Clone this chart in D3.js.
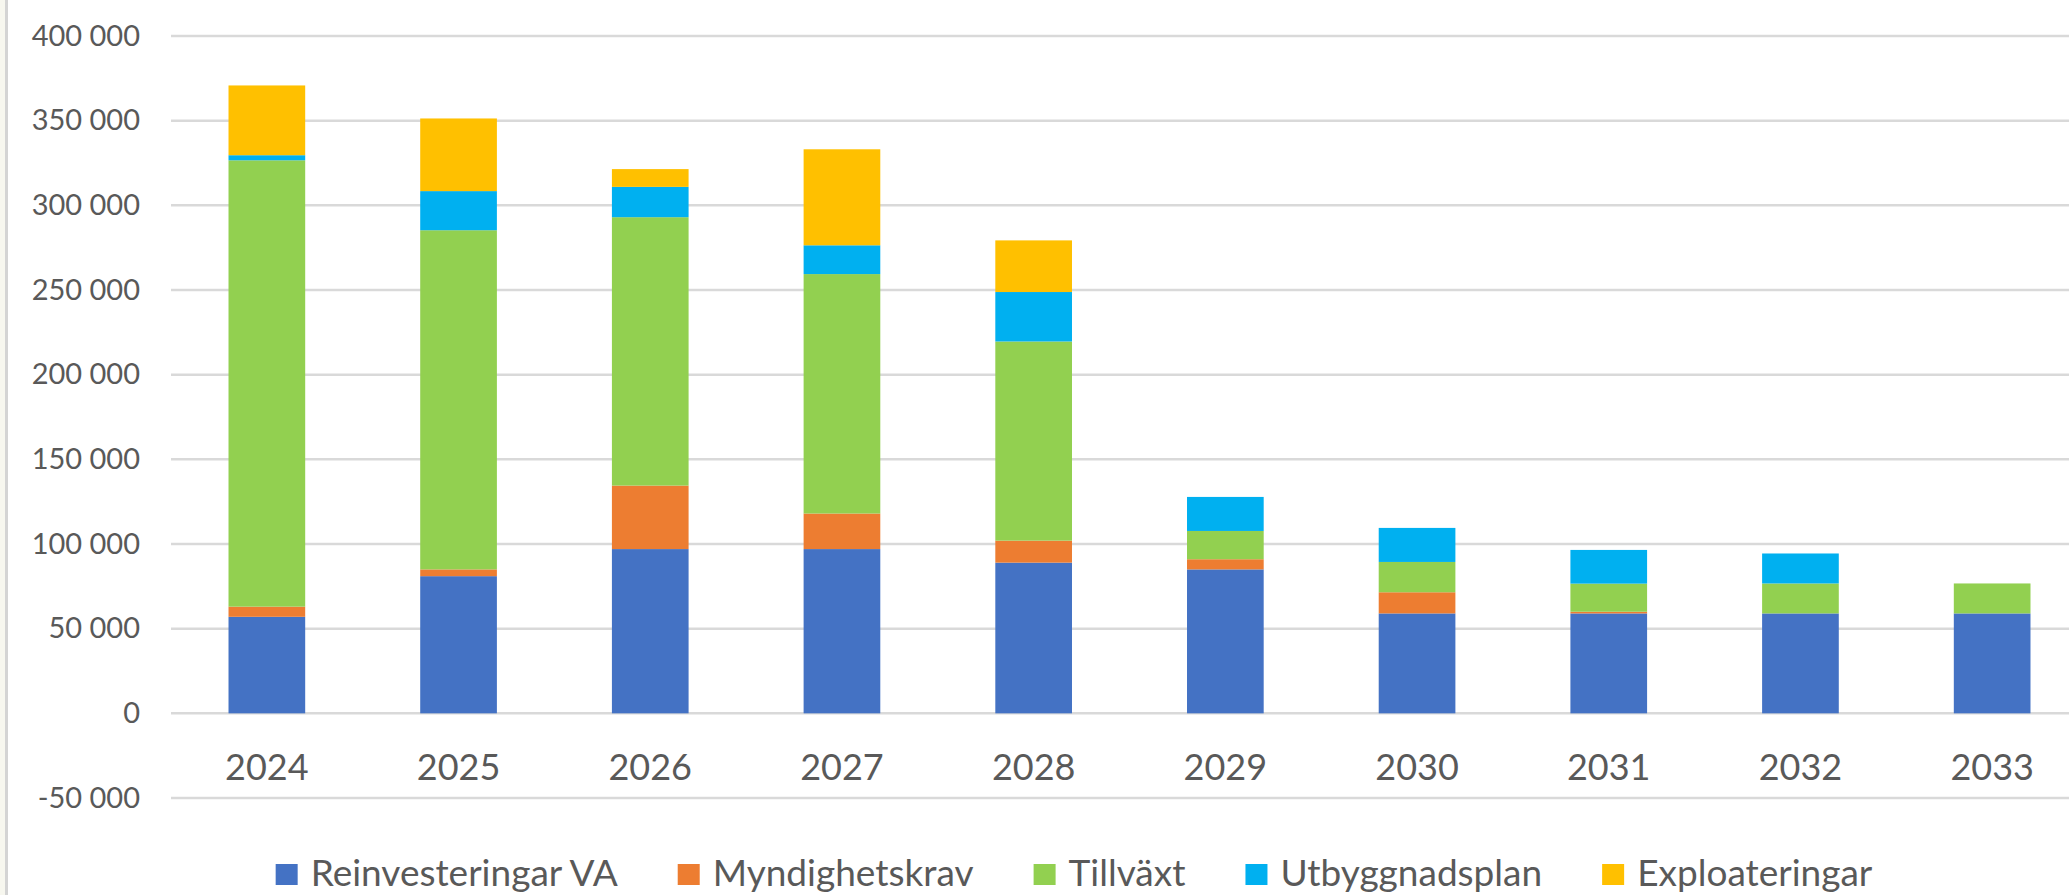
<!DOCTYPE html>
<html>
<head>
<meta charset="utf-8">
<script src="https://cdn.jsdelivr.net/npm/d3@7"></script>
<style>
  html, body { margin: 0; padding: 0; background: #fff; overflow: hidden; }
  svg { display: block; font-family: Lato, "Open Sans", sans-serif; }
</style>
</head>
<body>
<div id="chart"></div>
<script>
// categories and series
const years = ["2024", "2025", "2026", "2027", "2028", "2029", "2030", "2031", "2032", "2033"];
const seriesNames = ["Reinvesteringar VA", "Myndighetskrav", "Tillväxt", "Utbyggnadsplan", "Exploateringar"];
const reinvesteringar = [57000, 81000, 97000, 97000, 89000, 85000, 59000, 59000, 59000, 59000];
const myndighetskrav = [6000, 4000, 37500, 21000, 13000, 6000, 12500, 1000, 0, 0];
const tillvaxt = [263600, 200300, 158500, 141400, 117600, 16700, 17900, 16600, 17700, 17700];
const utbyggnadsplan = [3000, 23100, 17900, 17000, 29200, 20100, 20100, 19900, 17700, 0];
const exploateringar = [41200, 42900, 10500, 56700, 30500, 0, 0, 0, 0, 0];
const yTicks = [-50000, 0, 50000, 100000, 150000, 200000, 250000, 300000, 350000, 400000];
const colors = ["#4472C4", "#ED7D31", "#92D050", "#00B0F0", "#FFC000"];

const W = 2069, H = 895;
const margin = {top: 36, left: 171, bottom: 97};
const plotW = 1917; // runs past the right edge like the source
const plotH = H - margin.top - margin.bottom;

const table = years.map((y, i) => ({
    year: y,
    "Reinvesteringar VA": reinvesteringar[i],
    "Myndighetskrav": myndighetskrav[i],
    "Tillväxt": tillvaxt[i],
    "Utbyggnadsplan": utbyggnadsplan[i],
    "Exploateringar": exploateringar[i]
}));

const svg = d3.select("#chart").append("svg")
    .attr("width", W)
    .attr("height", H);

// left frame edge
svg.append("rect").attr("x", 0).attr("y", 0).attr("width", 5).attr("height", H).attr("fill", "#f7f7ef");
svg.append("line").attr("x1", 6.5).attr("x2", 6.5).attr("y1", 0).attr("y2", H)
    .attr("stroke", "#d4d4d4").attr("stroke-width", 3);

const g = svg.append("g").attr("transform", "translate(" + margin.left + "," + margin.top + ")");

const xScale = d3.scaleBand().domain(years).range([0, plotW]).paddingInner(0.6).paddingOuter(0.3);
const yScale = d3.scaleLinear().domain([-50000, 400000]).range([plotH, 0]);

// gridlines
g.append("g").selectAll("line")
    .data(yTicks)
    .join("line")
    .attr("x1", 0).attr("x2", plotW)
    .attr("y1", d => yScale(d)).attr("y2", d => yScale(d))
    .attr("stroke", "#d9d9d9").attr("stroke-width", 2.5);

// y axis labels
const fmt = v => d3.format(",")(v).replace(/,/g, " ").replace("−", "-");
const yAxis = g.append("g")
    .call(d3.axisLeft(yScale).tickValues(yTicks).tickSize(0).tickPadding(31).tickFormat(fmt));
yAxis.select(".domain").remove();
yAxis.selectAll("text")
    .attr("fill", "#595959")
    .style("font-size", "29px")
    .style("font-family", "Lato, sans-serif");

// stacked bars
const stack = d3.stack().keys(seriesNames).offset(d3.stackOffsetDiverging);
const layers = stack(table);

g.append("g").selectAll("g")
    .data(layers)
    .join("g")
    .attr("fill", (d, i) => colors[i])
    .selectAll("rect")
    .data(d => d)
    .join("rect")
    .attr("x", d => xScale(d.data.year))
    .attr("width", xScale.bandwidth())
    .attr("y", d => yScale(d[1]))
    .attr("height", d => Math.max(0, yScale(d[0]) - yScale(d[1])));

// x axis labels
g.append("g").selectAll("text")
    .data(years)
    .join("text")
    .attr("x", d => xScale(d) + xScale.bandwidth() / 2)
    .attr("y", 744)
    .attr("text-anchor", "middle")
    .attr("fill", "#595959")
    .style("font-size", "36px")
    .text(d => d);

// legend
const legend = svg.append("g");
const items = legend.selectAll("g")
    .data(seriesNames)
    .join("g");
items.append("rect")
    .attr("width", 22).attr("height", 21)
    .attr("y", 864)
    .attr("fill", (d, i) => colors[i]);
items.append("text")
    .attr("x", 35)
    .attr("y", 886)
    .attr("fill", "#595959")
    .style("font-size", "37px")
    .text(d => d);

let widths = [];
items.select("text").each(function() { widths.push(this.getComputedTextLength()); });
const gap = 60;
const total = d3.sum(widths.map(w => 35 + w)) + gap * (widths.length - 1);
let xPos = 1074 - total / 2;
items.each(function(d, i) {
    d3.select(this).attr("transform", "translate(" + xPos + ",0)");
    xPos += 35 + widths[i] + gap;
});
</script>
</body>
</html>
